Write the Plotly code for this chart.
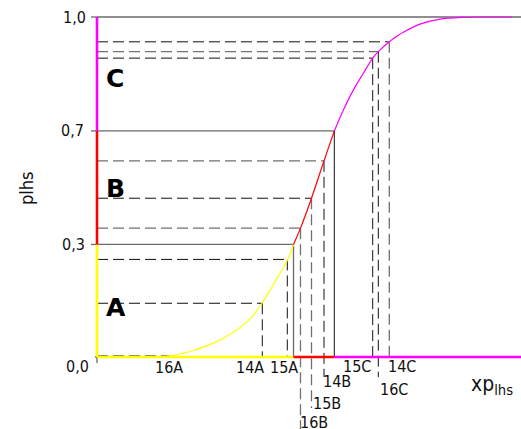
import plotly.graph_objects as go

# ---------------- data ----------------
# y axis is schematic: tick levels and their display positions
tick_pos = [0.0, 0.331, 0.665, 1.0]
tick_text = ["0,0", "0,3", "0,7", "1,0"]

# cumulative curve, display units
curve_x = [0, 40, 73, 96, 116, 136, 153, 165, 178, 191, 196.5,
           203.5, 214.5, 227, 237.3,
           246.3, 256.3, 266.3, 275.7, 281.3, 292.3, 301.3, 306.3, 323, 343, 366.3, 383, 414.7]
curve_y = [0.0, 0.001, 0.003, 0.019, 0.040, 0.072, 0.112, 0.158, 0.221, 0.288, 0.331,
           0.379, 0.467, 0.577, 0.665,
           0.726, 0.785, 0.834, 0.879, 0.898, 0.927, 0.946, 0.955, 0.979, 0.994, 0.999, 1.0, 1.0]

# crossings of the curve with 0,3 and 0,7 ; end of x axis
x_b1 = 196.5
x_b2 = 237.3
x_end = 424

# sample points
pt_name = ["16A", "14A", "15A", "16B", "15B", "14B", "15C", "16C", "14C"]
pt_x = [72, 165.3, 190.3, 203.5, 214.5, 227, 275.7, 281.3, 292.3]
pt_y = [0.004, 0.158, 0.287, 0.379, 0.467, 0.577, 0.879, 0.898, 0.927]

zones = ["A", "B", "C"]

# ---------------- styling ----------------
GRAY = "#6a6a6a"
DGRAY = "#707070"
BLACK = "#111111"
YEL, RED, MAG = "#ffff00", "#ff0000", "#ff00ff"
FONT = "DejaVu Sans Condensed, DejaVu Sans, sans-serif"
DASH = "11px,5px"

h_col = [DGRAY, BLACK, BLACK, DGRAY, BLACK, DGRAY, BLACK, DGRAY, BLACK]
v_col = [DGRAY, BLACK, BLACK, DGRAY, DGRAY, BLACK, BLACK, BLACK, DGRAY]
v_bottom = [0, 0, 0, -0.212, -0.150, -0.059, 0, -0.059, 0]
lab_y = [-0.032, -0.032, -0.032, -0.193, -0.138, -0.072, -0.028, -0.097, -0.028]
lab_anchor = ["center", "right", "center", "left", "left", "left", "right", "left", "left"]
lab_shift = [0, 3, -3, -2, 0, -2, -1, 1, -2]
zone_y = [0.147, 0.497, 0.82]


def wid(c):
    return 1.3 if c == DGRAY else 1


fig = go.Figure()
shapes = []

# guide lines for sample points
for i in range(len(pt_name)):
    shapes.append(dict(type="line", xref="x", yref="y", x0=0, x1=pt_x[i], y0=pt_y[i], y1=pt_y[i],
                       line=dict(color=h_col[i], width=wid(h_col[i]), dash=DASH), layer="below"))
    shapes.append(dict(type="line", xref="x", yref="y", x0=pt_x[i], x1=pt_x[i], y0=pt_y[i], y1=v_bottom[i],
                       line=dict(color=v_col[i], width=wid(v_col[i]), dash=DASH), layer="below"))

# solid level lines
shapes.append(dict(type="line", xref="x", yref="y", x0=0, x1=x_end, y0=tick_pos[3], y1=tick_pos[3],
                   line=dict(color=GRAY, width=1.3), layer="below"))
shapes.append(dict(type="line", xref="x", yref="y", x0=0, x1=x_b2, y0=tick_pos[2], y1=tick_pos[2],
                   line=dict(color=GRAY, width=1.3), layer="below"))
shapes.append(dict(type="line", xref="x", yref="y", x0=0, x1=x_b1, y0=tick_pos[1], y1=tick_pos[1],
                   line=dict(color=GRAY, width=1.3), layer="below"))
shapes.append(dict(type="line", xref="x", yref="y", x0=x_b1, x1=x_b1, y0=tick_pos[1], y1=0,
                   line=dict(color=GRAY, width=1.3), layer="below"))
shapes.append(dict(type="line", xref="x", yref="y", x0=x_b2, x1=x_b2, y0=tick_pos[2], y1=0,
                   line=dict(color=BLACK, width=1), layer="below"))

# tick marks
for t in tick_pos[1:]:
    shapes.append(dict(type="line", xref="x", yref="y", x0=-6, x1=0, y0=t, y1=t,
                       line=dict(color=GRAY, width=1.3), layer="below"))
shapes.append(dict(type="line", xref="x", yref="y", x0=-2, x1=0, y0=0, y1=0,
                   line=dict(color=GRAY, width=1.3), layer="below"))
shapes.append(dict(type="line", xref="x", yref="y", x0=0, x1=0, y0=0, y1=-0.018,
                   line=dict(color=GRAY, width=1.3), layer="below"))

# coloured axes
seg_x = [(0, x_b1), (x_b1, x_b2), (x_b2, x_end)]
seg_y = [(tick_pos[0], tick_pos[1]), (tick_pos[1], tick_pos[2]), (tick_pos[2], tick_pos[3])]
cols = [YEL, RED, MAG]
for k in range(3):
    fig.add_trace(go.Scatter(x=list(seg_x[k]), y=[0, 0], mode="lines",
                             line=dict(color=cols[k], width=2.6), hoverinfo="skip"))
    fig.add_trace(go.Scatter(x=[0, 0], y=list(seg_y[k]), mode="lines",
                             line=dict(color=cols[k], width=2.6), hoverinfo="skip"))

# curve split into the three zones
bounds = [(0, x_b1), (x_b1, x_b2), (x_b2, 1e9)]
for k in range(3):
    xs = [x for x in curve_x if bounds[k][0] <= x <= bounds[k][1]]
    ys = [y for x, y in zip(curve_x, curve_y) if bounds[k][0] <= x <= bounds[k][1]]
    fig.add_trace(go.Scatter(x=xs, y=ys, mode="lines",
                             line=dict(color=cols[k], width=1.2, shape="spline", smoothing=0.8),
                             hoverinfo="skip"))

ann = []
# y tick labels
tick_lab_y = [-0.028, tick_pos[1], tick_pos[2], tick_pos[3]]
tick_lab_x = [-7, -11, -12, -10]
for t, ty, tx in zip(tick_text, tick_lab_y, tick_lab_x):
    ann.append(dict(x=tx, y=ty, xref="x", yref="y", text=t, showarrow=False,
                    xanchor="right", yanchor="middle", borderpad=0,
                    font=dict(family=FONT, size=16, color="#111")))
# point labels
for i in range(len(pt_name)):
    ann.append(dict(x=pt_x[i], y=lab_y[i], xref="x", yref="y", text=pt_name[i], showarrow=False,
                    xanchor=lab_anchor[i], yanchor="middle", xshift=lab_shift[i], borderpad=0,
                    font=dict(family=FONT, size=16, color="#111")))
# zone letters
for z, zy in zip(zones, zone_y):
    ann.append(dict(x=8, y=zy, xref="x", yref="y", text="<b>" + z + "</b>", showarrow=False,
                    xanchor="left", yanchor="middle", borderpad=0,
                    font=dict(family="DejaVu Sans, sans-serif", size=25, color="#000")))
# axis titles
ann.append(dict(x=-71, y=0.497, xref="x", yref="y", text="plhs", showarrow=False, textangle=-90,
                xanchor="center", yanchor="middle", font=dict(family=FONT, size=18, color="#111")))
ann.append(dict(x=373, y=-0.082, xref="x", yref="y", text="xp<sub>lhs</sub>", showarrow=False,
                xanchor="left", yanchor="middle", borderpad=0,
                font=dict(family=FONT, size=21, color="#111")))

fig.update_layout(
    width=521, height=429,
    margin=dict(l=0, r=0, t=0, b=0),
    paper_bgcolor="white", plot_bgcolor="white",
    showlegend=False,
    xaxis=dict(range=[-97, 424], visible=False, fixedrange=True),
    yaxis=dict(range=[-72 / 340, 357 / 340], visible=False, fixedrange=True),
    shapes=shapes, annotations=ann,
)

fig.write_html("out.html")
